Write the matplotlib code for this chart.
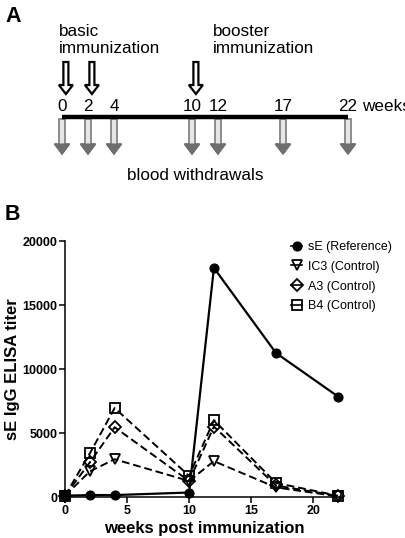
import numpy as np
import matplotlib
matplotlib.use('Agg')
import matplotlib.pyplot as plt
from matplotlib.patches import FancyArrow, Polygon
from matplotlib.lines import Line2D

plt.rcParams['font.family'] = ['Liberation Sans', 'DejaVu Sans']

# schedule (panel A)
timeline_weeks = [0, 2, 4, 10, 12, 17, 22]
immunization_weeks = [0, 2, 10]
blood_weeks = [0, 2, 4, 10, 12, 17, 22]

# titers (panel B)
weeks = [0, 2, 4, 10, 12, 17, 22]
sE_ref = [100, 150, 150, 350, 17900, 11250, 7850]
ic3 = [100, 2000, 2950, 1250, 2800, 750, 50]
a3 = [100, 2700, 5450, 1250, 5500, 900, 80]
b4 = [100, 3400, 6950, 1650, 6000, 1100, 100]

fig = plt.figure(figsize=(4.06, 5.38), dpi=100)

# panel A drawn on an overlay axes: x in weeks, y in pixels from top
ax_a = fig.add_axes([0, 0, 1, 1])
ax_a.set_axis_off()
ax_a.patch.set_visible(False)
px_week = 13.0
x_left = -62 / px_week
ax_a.set_xlim(x_left, (406 - 62) / px_week)
ax_a.set_ylim(538, 0)

fs_a = 12.3
ax_a.text(x_left + 5 / px_week, 17, 'A', fontsize=15.5, fontweight='bold', va='center', ha='left')
ax_a.text(x_left + 5 / px_week, 215, 'B', fontsize=15.5, fontweight='bold', va='center', ha='left')

ax_a.text(-0.25, 53, 'basic\nimmunization', fontsize=fs_a, va='baseline', ha='left', linespacing=1.2)
ax_a.text(11.6, 53, 'booster\nimmunization', fontsize=fs_a, va='baseline', ha='left', linespacing=1.2)

ax_a.plot([timeline_weeks[0], timeline_weeks[-1]], [117, 117], color='black', lw=3.2, solid_capstyle='butt')
for w in timeline_weeks:
    ax_a.text(w, 111, str(w), fontsize=fs_a, ha='center', va='baseline')
ax_a.text(timeline_weeks[-1] + 1.1, 111, 'weeks', fontsize=fs_a, ha='left', va='baseline')

for w in immunization_weeks:
    ax_a.add_patch(FancyArrow(w + 0.3, 62, 0, 32, width=5 / px_week, head_width=14 / px_week,
                              head_length=9, length_includes_head=True,
                              fc='white', ec='black', lw=1.6))

for w in blood_weeks:
    ax_a.add_patch(FancyArrow(w, 119, 0, 35, width=6 / px_week, head_width=15 / px_week,
                              head_length=10, length_includes_head=True,
                              fc='#e6e6e6', ec='#7a7a7a', lw=1.2))
    hw = 7.5 / px_week
    ax_a.add_patch(Polygon([(w - hw, 144), (w + hw, 144), (w, 154)], closed=True,
                           fc='#6e6e6e', ec='#6e6e6e', lw=0.8))

ax_a.text(10.27, 180, 'blood withdrawals', fontsize=fs_a, ha='center', va='baseline')

# panel B
ax = fig.add_axes([65 / 406, 41 / 538, 278 / 406, 256 / 538])
ax.plot(weeks, sE_ref, color='black', lw=1.6, marker='o', ms=6.3, mfc='black', mec='black',
        clip_on=False, zorder=5, label='sE (Reference)')
dash = (4, 2)
ax.plot(weeks, ic3, color='black', lw=1.4, dashes=dash, marker='v', ms=7, mfc='none', mec='black',
        mew=1.3, clip_on=False, label='IC3 (Control)')
ax.plot(weeks, a3, color='black', lw=1.4, dashes=dash, marker='D', ms=6, mfc='none', mec='black',
        mew=1.3, clip_on=False, label='A3 (Control)')
ax.plot(weeks, b4, color='black', lw=1.4, dashes=dash, marker='s', ms=7, mfc='none', mec='black',
        mew=1.3, clip_on=False, label='B4 (Control)')

ax.set_xlim(0, 22.4)
ax.set_ylim(0, 20000)
ax.set_xticks([0, 5, 10, 15, 20])
ax.set_yticks([0, 5000, 10000, 15000, 20000])
ax.spines['top'].set_visible(False)
ax.spines['right'].set_visible(False)
ax.spines['left'].set_linewidth(1.1)
ax.spines['bottom'].set_linewidth(1.1)
ax.tick_params(direction='out', length=4, width=1.1, labelsize=9, pad=1.5)
for lab in ax.get_xticklabels() + ax.get_yticklabels():
    lab.set_fontweight('bold')
ax.set_xlabel('weeks post immunization', fontsize=12, fontweight='bold', labelpad=3)
ax.set_ylabel('sE IgG ELISA titer', fontsize=12, fontweight='bold', labelpad=2)

handles = [
    Line2D([], [], color='black', lw=1.2, marker='o', ms=6.3, mfc='black'),
    Line2D([], [], color='black', lw=1.2, marker='v', ms=7, mfc='none', mew=1.3),
    Line2D([], [], color='black', lw=1.2, marker='D', ms=6, mfc='none', mew=1.3),
    Line2D([], [], color='black', lw=1.2, marker='s', ms=7, mfc='none', mew=1.3),
]
labels = ['sE (Reference)', 'IC3 (Control)', 'A3 (Control)', 'B4 (Control)']
ax.legend(handles, labels, loc='upper left', bbox_to_anchor=(291 / 406, 1 - 241 / 538),
          bbox_transform=fig.transFigure, frameon=False, fontsize=9, handlelength=0.9,
          handletextpad=0.5, labelspacing=0.62, borderaxespad=0, borderpad=0)

fig.savefig('out.png', dpi=100)
